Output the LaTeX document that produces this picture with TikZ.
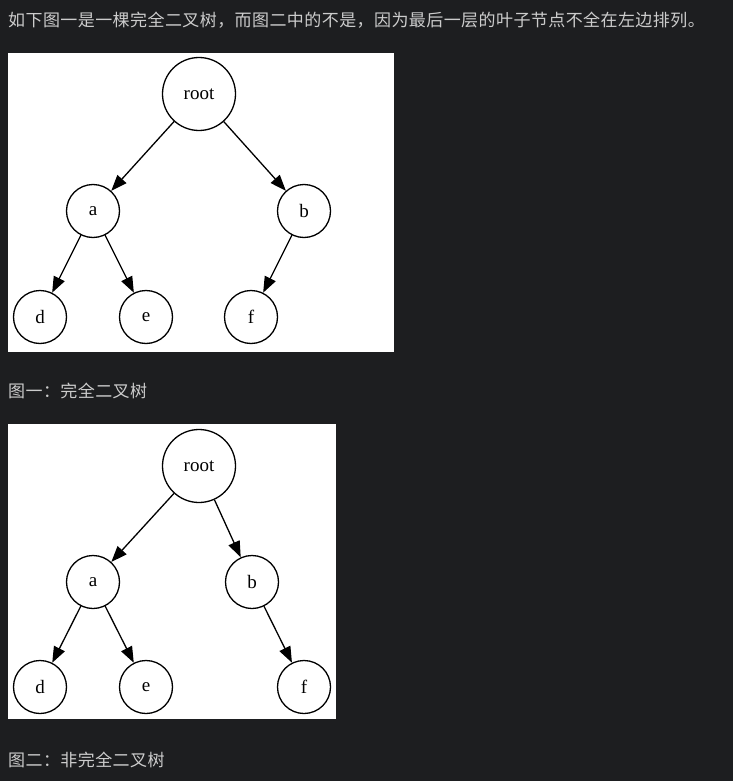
\documentclass[tikz,border=0pt]{standalone}
\usepackage{fontspec}
\setmainfont{Liberation Serif}
\newfontfamily\cjk{Noto Sans CJK SC}[LetterSpace=2.5]
\usetikzlibrary{arrows.meta}
\definecolor{pagebg}{RGB}{29,30,32}
\definecolor{captxt}{RGB}{204,204,204}
\tikzset{
  caption/.style={anchor=west,inner sep=0pt,text=captxt,font=\cjk\fontsize{17}{20}\selectfont},
  panel/.style={fill=white,draw=none},
  tnode/.style={circle,draw=black,line width=1.3pt,inner sep=0pt,minimum size=53pt,font=\fontsize{19}{22}\selectfont},
  rnode/.style={tnode,minimum size=73pt},
  edge/.style={draw=black,line width=1.3pt,-{Triangle[length=16pt,width=12pt]}}
}
\begin{document}
\begin{tikzpicture}[x=1pt,y=-1pt]
\fill[pagebg] (0,0) rectangle (733,781);
\useasboundingbox (0,0) rectangle (733,781);
\node[caption] (t0) at (8,20) {如下图一是一棵完全二叉树，而图二中的不是，因为最后一层的叶子节点不全在左边排列。};
% panel 1
\fill[panel] (8,53) rectangle (394,352);
\node[rnode] (r1) at (199,94) {root};
\node[tnode] (a1) at (93,211) {a};
\node[tnode] (b1) at (304,211) {b};
\node[tnode] (d1) at (40,317) {d};
\node[tnode] (e1) at (146,317) {e};
\node[tnode] (f1) at (251,317) {f};
\draw[edge] (r1) -- (a1);
\draw[edge] (r1) -- (b1);
\draw[edge] (a1) -- (d1);
\draw[edge] (a1) -- (e1);
\draw[edge] (b1) -- (f1);
\node[caption] (c1) at (8,391) {图一：完全二叉树};
% panel 2
\fill[panel] (8,424) rectangle (336,719);
\node[rnode] (r2) at (199,466) {root};
\node[tnode] (a2) at (93,582) {a};
\node[tnode] (b2) at (252,582) {b};
\node[tnode] (d2) at (40,687) {d};
\node[tnode] (e2) at (146,687) {e};
\node[tnode] (f2) at (304,687) {f};
\draw[edge] (r2) -- (a2);
\draw[edge] (r2) -- (b2);
\draw[edge] (a2) -- (d2);
\draw[edge] (a2) -- (e2);
\draw[edge] (b2) -- (f2);
\node[caption] (c2) at (8,760) {图二：非完全二叉树};
\end{tikzpicture}
\end{document}
